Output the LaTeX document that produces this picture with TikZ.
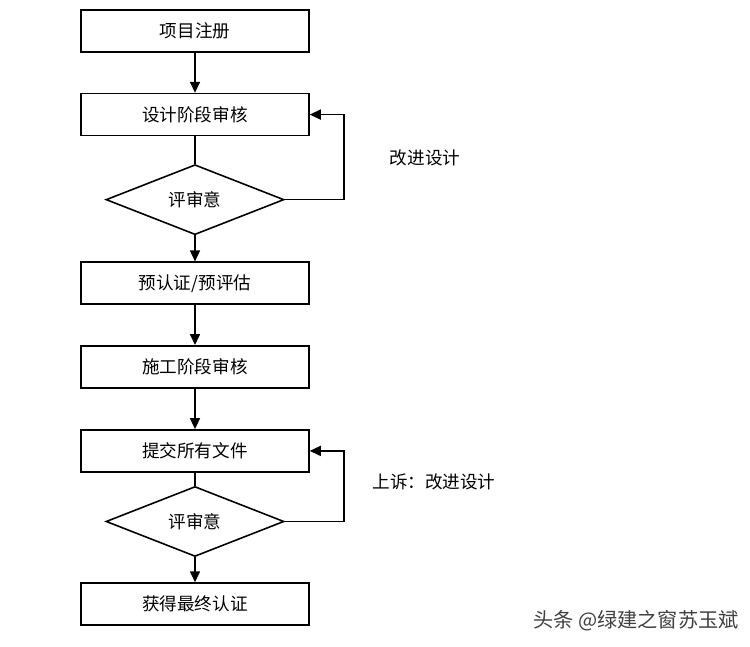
\documentclass[tikz,border=0pt]{standalone}
\usepackage{fontspec}
\setmainfont{Noto Sans CJK SC}
\usetikzlibrary{arrows.meta,positioning,shapes.geometric}

\begin{document}
\begin{tikzpicture}[>={Triangle[length=2.2mm,width=2mm]},line width=0.9pt,
 font=\fontsize{10}{12}\selectfont,
 stepbox/.style={draw,minimum width=4.56cm,minimum height=0.84cm,inner sep=0pt},
 check/.style={draw,diamond,aspect=2.54,minimum width=3.56cm,minimum height=1.4cm,inner sep=0pt},
 note/.style={inner sep=0pt}]
\useasboundingbox (0,0) rectangle (15,-12.94);
\node[stepbox] (reg) at (3.9,-0.62) {项目注册};
\node[stepbox,below=0.80cm of reg] (design) {设计阶段审核};
\node[check,below=0.55cm of design] (rev1) {评审意};
\node[stepbox,below=0.52cm of rev1] (pre) {预认证/预评估};
\node[stepbox,below=0.80cm of pre] (build) {施工阶段审核};
\node[stepbox,below=0.81cm of build] (docs) {提交所有文件};
\node[check,below=0.26cm of docs] (rev2) {评审意};
\node[stepbox,below=0.50cm of rev2] (final) {获得最终认证};
\node[note] (fix1) at (8.5,-3.16) {改进设计};
\node[note] (fix2) at (8.68,-9.64) {上诉：改进设计};
\node[note,text=black!75,font=\fontsize{11.5}{14}\selectfont] (mark) at (12.72,-12.42) {头条 @绿建之窗苏玉斌};
\draw[->] (reg)--(design);\draw (design)--(rev1);\draw[->] (rev1)--(pre);
\draw[->] (pre)--(build);\draw[->] (build)--(docs);\draw (docs)--(rev2);
\draw[->] (rev2)--(final);
\draw[->] (rev1.east) -- ++(1.18,0) |- (design.east);
\draw[->] (rev2.east) -- ++(1.18,0) |- (docs.east);
\end{tikzpicture}
\end{document}
